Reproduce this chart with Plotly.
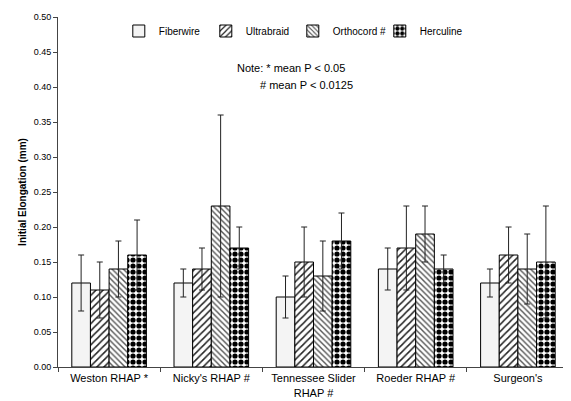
import plotly.graph_objects as go

categories = ["Weston RHAP *", "Nicky's RHAP #", "Tennessee Slider<br>RHAP #", "Roeder RHAP #", "Surgeon's"]
series_names = ["Fiberwire", "Ultrabraid", "Orthocord #", "Herculine"]
fiberwire = [0.12, 0.12, 0.10, 0.14, 0.12]
fiberwire_err = [0.04, 0.02, 0.03, 0.03, 0.02]
ultrabraid = [0.11, 0.14, 0.15, 0.17, 0.16]
ultrabraid_err = [0.04, 0.03, 0.05, 0.06, 0.04]
orthocord = [0.14, 0.23, 0.13, 0.19, 0.14]
orthocord_err = [0.04, 0.13, 0.05, 0.04, 0.05]
herculine = [0.16, 0.17, 0.18, 0.14, 0.15]
herculine_err = [0.05, 0.03, 0.04, 0.02, 0.08]
y_ticks = [0.00, 0.05, 0.10, 0.15, 0.20, 0.25, 0.30, 0.35, 0.40, 0.45, 0.50]

values = [fiberwire, ultrabraid, orthocord, herculine]
errors = [fiberwire_err, ultrabraid_err, orthocord_err, herculine_err]
styles = [
    dict(color="#f4f4f4", pattern=dict(shape="")),
    dict(color="white", pattern=dict(shape="/", fgcolor="#222222", bgcolor="white", fgopacity=1,
                                     size=5, solidity=0.3)),
    dict(color="white", pattern=dict(shape="\\", fgcolor="#555555", bgcolor="white", fgopacity=1,
                                     size=4, solidity=0.35)),
    dict(color="white", pattern=dict(shape=".", fgcolor="black", bgcolor="white", fgopacity=1,
                                     size=6, solidity=0.6)),
]

fig = go.Figure()
for name, vals, errs, st in zip(series_names, values, errors, styles):
    fig.add_trace(go.Bar(
        name=name, x=categories, y=vals,
        marker=dict(color=st["color"], pattern=st["pattern"], line=dict(color="black", width=1)),
        error_y=dict(type="data", array=errs, visible=True, color="#222222", thickness=1, width=3),
    ))

# page body has an 8px default margin; margins compensate so the plot area lands at x 58..569, y 17..367
fig.update_layout(
    width=571, height=401,
    margin=dict(l=50, r=10, t=9, b=42, autoexpand=False),
    paper_bgcolor="white", plot_bgcolor="white",
    font=dict(family="Liberation Sans, Arial", size=10, color="black"),
    barmode="group", bargap=0.27, bargroupgap=0,
    showlegend=True,
    legend=dict(orientation="h", x=0.119, y=0.96, xanchor="left", yanchor="middle",
                font=dict(size=10), entrywidth=42, entrywidthmode="pixels",
                itemwidth=30, bgcolor="rgba(0,0,0,0)", tracegroupgap=0),
    xaxis=dict(type="category", showline=True, linecolor="#444444", linewidth=1,
               ticks="outside", ticklen=4, tickcolor="#444444", tickson="boundaries",
               tickfont=dict(size=11), automargin=False, showgrid=False, ticklabelstandoff=1),
    yaxis=dict(range=[0, 0.5], tickvals=y_ticks, tickformat=".2f", showline=True,
               linecolor="#444444", linewidth=1, ticks="outside", ticklen=4, tickcolor="#444444",
               tickfont=dict(size=9), showgrid=False, zeroline=False, automargin=False,
               title=dict(text="<b>Initial Elongation (mm)</b>", font=dict(size=10), standoff=5)),
    annotations=[
        dict(text="Note: * mean P < 0.05", xref="paper", yref="paper", x=0.455, y=0.855,
             showarrow=False, xanchor="center", yanchor="middle", font=dict(size=11)),
        dict(text="# mean P < 0.0125", xref="paper", yref="paper", x=0.486, y=0.806,
             showarrow=False, xanchor="center", yanchor="middle", font=dict(size=11)),
    ],
)

fig.write_html("out.html")
